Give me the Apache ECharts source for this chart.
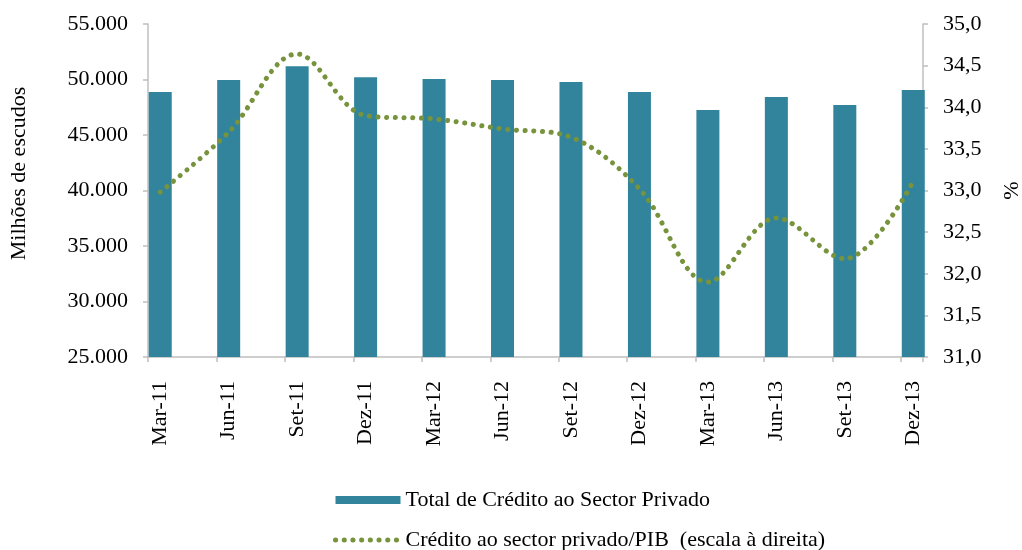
<!DOCTYPE html>
<html>
<head>
<meta charset="utf-8">
<script src="https://cdn.jsdelivr.net/npm/echarts@6/dist/echarts.min.js"></script>
<style>
  html, body { margin: 0; padding: 0; background: #fff; }
  #chart { width: 1022px; height: 550px; }
</style>
</head>
<body>
<div id="chart"></div>
<script>
// dados
var categorias = ['Mar-11', 'Jun-11', 'Set-11', 'Dez-11', 'Mar-12', 'Jun-12',
                  'Set-12', 'Dez-12', 'Mar-13', 'Jun-13', 'Set-13', 'Dez-13'];

// Total de Crédito ao Sector Privado (milhões de escudos)
var creditoTotal = [48870, 49950, 51200, 50200, 50050, 49950,
                    49780, 48870, 47250, 48420, 47700, 49050];

// Crédito ao sector privado/PIB (%)
var creditoPIB = [32.98, 33.70, 34.64, 33.90, 33.86, 33.74,
                  33.64, 33.02, 31.90, 32.67, 32.18, 33.11];

var escalaEsq = { min: 25000, max: 55000, interval: 5000 };
var escalaDir = { min: 31, max: 35, interval: 0.5 };

var corBarra = '#31849B';
var corLinha = '#77933C';
var corEixo = '#BFBFBF';
var fonte = 'Liberation Serif';
var tamFonte = 22;

// tracejado em pontos redondos
var pontilhado = { color: corLinha, width: 5, type: [0.1, 8.6], cap: 'round' };

function milhares(v) {
  return String(v).replace(/\B(?=(\d{3})+(?!\d))/g, '.');
}

var chart = echarts.init(document.getElementById('chart'));

var option = {
  animation: false,
  textStyle: { fontFamily: fonte, color: '#000' },
  grid: [
    // grelha dos eixos visíveis
    { left: 148, right: 99, top: 24, bottom: 193, outerBoundsMode: 'none' },
    // grelha das séries (categorias deslocadas como no original)
    { left: 126, right: 74.5, top: 24, bottom: 193, outerBoundsMode: 'none' }
  ],
  xAxis: [
    {
      gridIndex: 0,
      type: 'value',
      min: 0,
      max: 11.32,
      interval: 1,
      axisLine: { show: true, onZero: false, lineStyle: { color: corEixo, width: 1.5 } },
      axisTick: { show: true, inside: false, length: 5, lineStyle: { color: corEixo, width: 1.5 } },
      axisLabel: { show: false },
      splitLine: { show: false }
    },
    {
      gridIndex: 1,
      type: 'category',
      data: categorias,
      boundaryGap: true,
      axisLine: { show: false },
      axisTick: { show: false },
      axisLabel: {
        rotate: 90,
        margin: 24,
        fontSize: tamFonte,
        fontFamily: fonte,
        color: '#000',
        interval: 0
      },
      splitLine: { show: false }
    }
  ],
  yAxis: [
    {
      gridIndex: 0,
      type: 'value',
      position: 'left',
      min: escalaEsq.min, max: escalaEsq.max, interval: escalaEsq.interval,
      name: 'Milhões de escudos',
      nameLocation: 'middle',
      nameGap: 118,
      nameRotate: 90,
      nameTextStyle: { fontSize: tamFonte, fontFamily: fonte, color: '#000', padding: [0, 0, 0, 34] },
      axisLine: { show: true, lineStyle: { color: corEixo, width: 1.5 } },
      axisTick: { show: true, length: 5, lineStyle: { color: corEixo, width: 1.5 } },
      axisLabel: {
        margin: 20, fontSize: tamFonte, fontFamily: fonte, color: '#000',
        formatter: function (v) { return milhares(v); }
      },
      splitLine: { show: false }
    },
    {
      gridIndex: 0,
      type: 'value',
      position: 'right',
      min: escalaDir.min, max: escalaDir.max, interval: escalaDir.interval,
      name: '%',
      nameLocation: 'middle',
      nameGap: 78,
      nameRotate: 90,
      nameTextStyle: { fontSize: tamFonte, fontFamily: fonte, color: '#000' },
      axisLine: { show: true, lineStyle: { color: corEixo, width: 1.5 } },
      axisTick: { show: true, length: 5, lineStyle: { color: corEixo, width: 1.5 } },
      axisLabel: {
        margin: 20, fontSize: tamFonte, fontFamily: fonte, color: '#000',
        formatter: function (v) { return v.toFixed(1).replace('.', ','); }
      },
      splitLine: { show: false }
    },
    {
      gridIndex: 1, type: 'value', show: false,
      min: escalaEsq.min, max: escalaEsq.max
    },
    {
      gridIndex: 1, type: 'value', show: false,
      min: escalaDir.min, max: escalaDir.max
    }
  ],
  legend: {
    orient: 'vertical',
    left: 333,
    top: 489,
    height: 80,
    padding: 0,
    itemWidth: 65,
    itemHeight: 8,
    itemGap: 18,
    textStyle: { fontSize: tamFonte, fontFamily: fonte, color: '#000', lineHeight: 22 },
    data: [
      { name: 'Total de Crédito ao Sector Privado', icon: 'rect' },
      {
        name: 'Crédito ao sector privado/PIB  (escala à direita)',
        itemStyle: { color: 'rgba(0,0,0,0)', borderWidth: 0 },
        lineStyle: pontilhado
      }
    ]
  },
  series: [
    {
      name: 'Total de Crédito ao Sector Privado',
      type: 'bar',
      xAxisIndex: 1,
      yAxisIndex: 2,
      barWidth: 23,
      itemStyle: { color: corBarra },
      data: creditoTotal
    },
    {
      name: 'Crédito ao sector privado/PIB  (escala à direita)',
      type: 'line',
      xAxisIndex: 1,
      yAxisIndex: 3,
      smooth: 0.35,
      symbol: 'none',
      itemStyle: { color: corLinha },
      lineStyle: pontilhado,
      data: creditoPIB
    }
  ]
};

chart.setOption(option);
</script>
</body>
</html>
